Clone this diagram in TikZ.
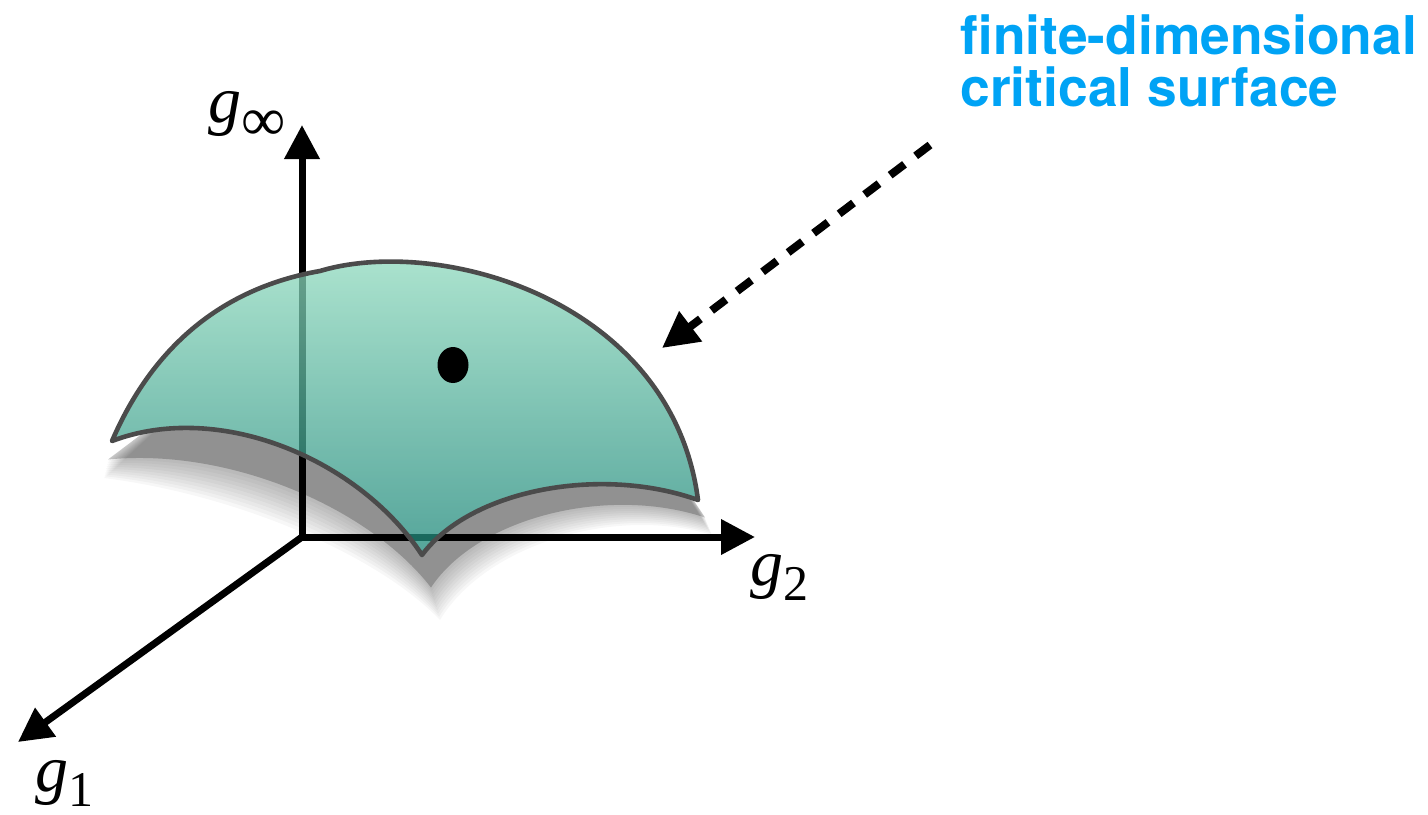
\documentclass[tikz,border=0pt]{standalone}
\usepackage{fontspec}
\setmainfont{Liberation Serif}
\newfontfamily\heros{TeX Gyre Heros}
\usetikzlibrary{arrows.meta,shapes.geometric,calc}
\definecolor{labelblue}{RGB}{0,163,245}
\definecolor{surftop}{RGB}{152,224,195}
\definecolor{surfbot}{RGB}{28,135,121}
\definecolor{edgegray}{RGB}{75,75,75}
\begin{document}
\begin{tikzpicture}[x=0.5pt,y=-0.5pt,
  axis/.style={line width=3.5pt, line join=miter, {Triangle[length=17pt,width=17pt]}-{Triangle[length=17pt,width=17pt]}},
  axisone/.style={line width=3.5pt, -{Triangle[length=17pt,width=17pt]}},
  pointer/.style={line width=4pt, dash pattern=on 9pt off 7pt, -{Triangle[length=18pt,width=18pt]}},
  axlabel/.style={inner sep=0pt, anchor=base west, font=\fontsize{33}{33}\selectfont}
]
\useasboundingbox (0,0) rectangle (1428,814);
\def\surfpath{(112,441) .. controls (160,330) and (240,285) .. (320,271) .. controls (440,235) and (672,300) .. (698,500) .. controls (600,465) and (470,490) .. (422,555) .. controls (360,460) and (220,400) .. cycle}
% shadow geometry: inner = lower edge of the surface, outer = where the shadow fades out
\coordinate (RtA) at (698,500);  \coordinate (RtB) at (712,535);
\coordinate (CaA) at (600,465);  \coordinate (CaB) at (615,505);
\coordinate (CbA) at (470,490);  \coordinate (CbB) at (485,545);
\coordinate (CuA) at (422,555);  \coordinate (CuB) at (440,620);
\coordinate (CcA) at (360,460);  \coordinate (CcB) at (378,555);
\coordinate (CdA) at (220,400);  \coordinate (CdB) at (238,495);
\coordinate (LtA) at (112,441);  \coordinate (LtB) at (104,478);
\coordinate (InA) at (200,390);
\coordinate (InB) at (420,330);
\coordinate (InC) at (640,420);
\newcommand{\shadowat}[2]{%
  \fill[black, opacity=#2]
    ($(RtA)!#1!(RtB)$) .. controls ($(CaA)!#1!(CaB)$) and ($(CbA)!#1!(CbB)$) ..
    ($(CuA)!#1!(CuB)$) .. controls ($(CcA)!#1!(CcB)$) and ($(CdA)!#1!(CdB)$) ..
    ($(LtA)!#1!(LtB)$) -- (InA) -- (InB) -- (InC) -- cycle;}
\shadowat{0.5}{0.22}
\foreach \s in {0.55,0.6,0.65,0.7,0.75,0.8,0.85,0.9,0.95,1.0} {\shadowat{\s}{0.03}}
% clear the shadow under the surface
\fill[white] \surfpath;
% axes
\coordinate (O) at (302,537);
\coordinate (Y) at (302,125);
\coordinate (X) at (755,537);
\coordinate (Z) at (18,742);
\draw[axis] (Y) -- (O) -- (X);
\draw[axisone] (O) -- (Z);
% surface
\shade[top color=surftop, bottom color=surfbot, fill opacity=0.75] \surfpath;
\draw[edgegray, line width=2.3pt, line join=round] \surfpath;
% fixed point
\node[ellipse, fill=black, minimum width=15.5pt, minimum height=18pt, inner sep=0pt] (dot) at (453,365) {};
% pointer
\coordinate (ptrStart) at (930,145);
\coordinate (ptrEnd) at (662,348);
\draw[pointer] (ptrStart) -- (ptrEnd);
% labels
\node[axlabel] (gInf) at (208,122) {\textit{g}\raisebox{-9pt}{\fontsize{31}{31}\selectfont ∞}};
\node[axlabel] (gTwo) at (750,585) {\textit{g}\raisebox{-7.5pt}{\fontsize{25}{25}\selectfont 2}};
\node[axlabel] (gOne) at (35,791) {\textit{g}\raisebox{-7.5pt}{\fontsize{25}{25}\selectfont 1}};
\node[inner sep=0pt, anchor=north west, align=left, text=labelblue, font=\heros\bfseries\fontsize{26.7}{26}\selectfont] (title) at (960,14) {finite-dimensional\\critical surface};
\end{tikzpicture}
\end{document}
